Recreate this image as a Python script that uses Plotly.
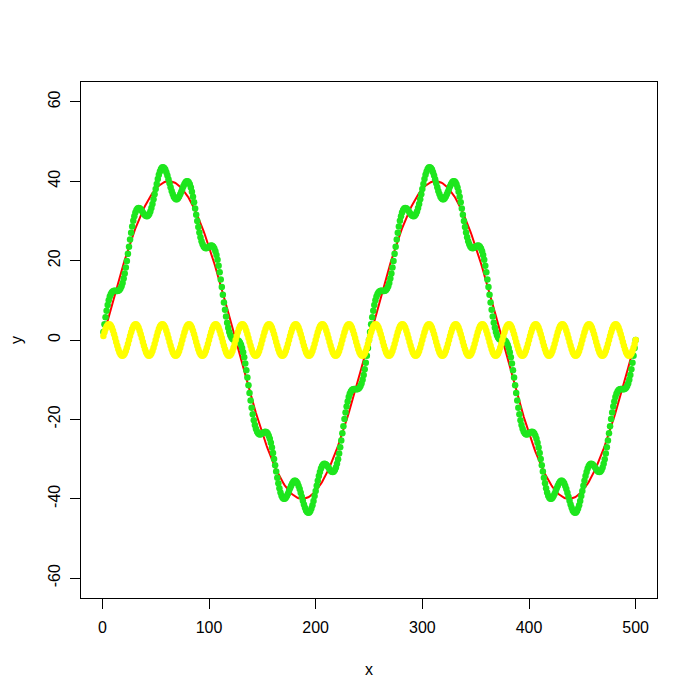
import plotly.graph_objects as go

# Red series: values read for x = 0..62 (first quarter of the slow wave, amplitude 40, period 250)
RED_QUARTER = [0.00, 1.01, 2.01, 3.01, 4.01, 5.01, 6.01, 7.00, 7.99, 8.97,
               9.95, 10.92, 11.88, 12.84, 13.79, 14.73, 15.65, 16.58, 17.48, 18.38,
               19.27, 20.14, 21.01, 21.86, 22.69, 23.51, 24.32, 25.11, 25.88, 26.64,
               27.38, 28.11, 28.81, 29.50, 30.17, 30.82, 31.45, 32.06, 32.65, 33.22,
               33.77, 34.30, 34.81, 35.29, 35.75, 36.19, 36.61, 37.00, 37.37, 37.72,
               38.04, 38.34, 38.62, 38.87, 39.09, 39.29, 39.47, 39.62, 39.74, 39.85,
               39.92, 39.97, 40.00]

# Yellow series: one cycle read for x = 0..24 (fast wave, amplitude 4, period 25)
YELLOW_CYCLE = [0.00, 0.99, 1.93, 2.74, 3.38, 3.80, 3.99, 3.93, 3.62, 3.08,
                2.35, 1.47, 0.50, -0.50, -1.47, -2.35, -3.08, -3.62, -3.93, -3.99,
                -3.80, -3.38, -2.74, -1.93, -0.99]

X_TICKS = [0, 100, 200, 300, 400, 500]
Y_TICKS = [-60, -40, -20, 0, 20, 40, 60]
N_POINTS = 500

# assemble the visible repetition of the read segments
half = RED_QUARTER + RED_QUARTER[::-1]                 # x = 0..125
red_cycle = half + [-v for v in half[1:]]             # x = 0..250
red_all = red_cycle[:250] * 2 + [0.0]                 # x = 0..500
yellow_all = YELLOW_CYCLE * 20 + [0.0]                # x = 0..500

x = list(range(1, N_POINTS + 1))
red = red_all[1:N_POINTS + 1]
yellow = yellow_all[1:N_POINTS + 1]
green = [r + yv for r, yv in zip(red, yellow)]

fig = go.Figure()
fig.add_trace(go.Scatter(x=x, y=red, mode="lines",
                         line=dict(color="#ff0000", width=2), showlegend=False))
fig.add_trace(go.Scatter(x=x, y=green, mode="markers",
                         marker=dict(color="#1ee61e", size=6.5, line=dict(width=0)),
                         showlegend=False))
fig.add_trace(go.Scatter(x=x, y=yellow, mode="markers",
                         marker=dict(color="#ffff00", size=6.5, line=dict(width=0)),
                         showlegend=False))

font = dict(family="Liberation Sans, Arial, sans-serif", size=16, color="black")

fig.update_layout(
    width=684, height=684,
    margin=dict(l=73, r=35, t=74, b=94),
    paper_bgcolor="white", plot_bgcolor="white",
    font=font,
    xaxis=dict(range=[-20, 520], tickvals=X_TICKS, ticktext=[str(v) for v in X_TICKS],
               showgrid=False, zeroline=False, showline=True, mirror=True,
               linecolor="black", linewidth=1, ticks="outside", ticklen=10,
               tickcolor="black", tickwidth=1, tickfont=font, ticklabelstandoff=5,
               automargin=False,
               title=dict(text="x", font=font, standoff=28)),
    yaxis=dict(range=[-65, 65], tickvals=Y_TICKS, ticktext=[str(v) for v in Y_TICKS],
               showgrid=False, zeroline=False, showline=True, mirror=True,
               linecolor="black", linewidth=1, ticks="outside", ticklen=10,
               tickcolor="black", tickwidth=1, tickfont=font, tickangle=-90,
               ticklabelstandoff=4, automargin=False,
               title=dict(text="y", font=font, standoff=24)),
)

fig.write_html("out.html")
